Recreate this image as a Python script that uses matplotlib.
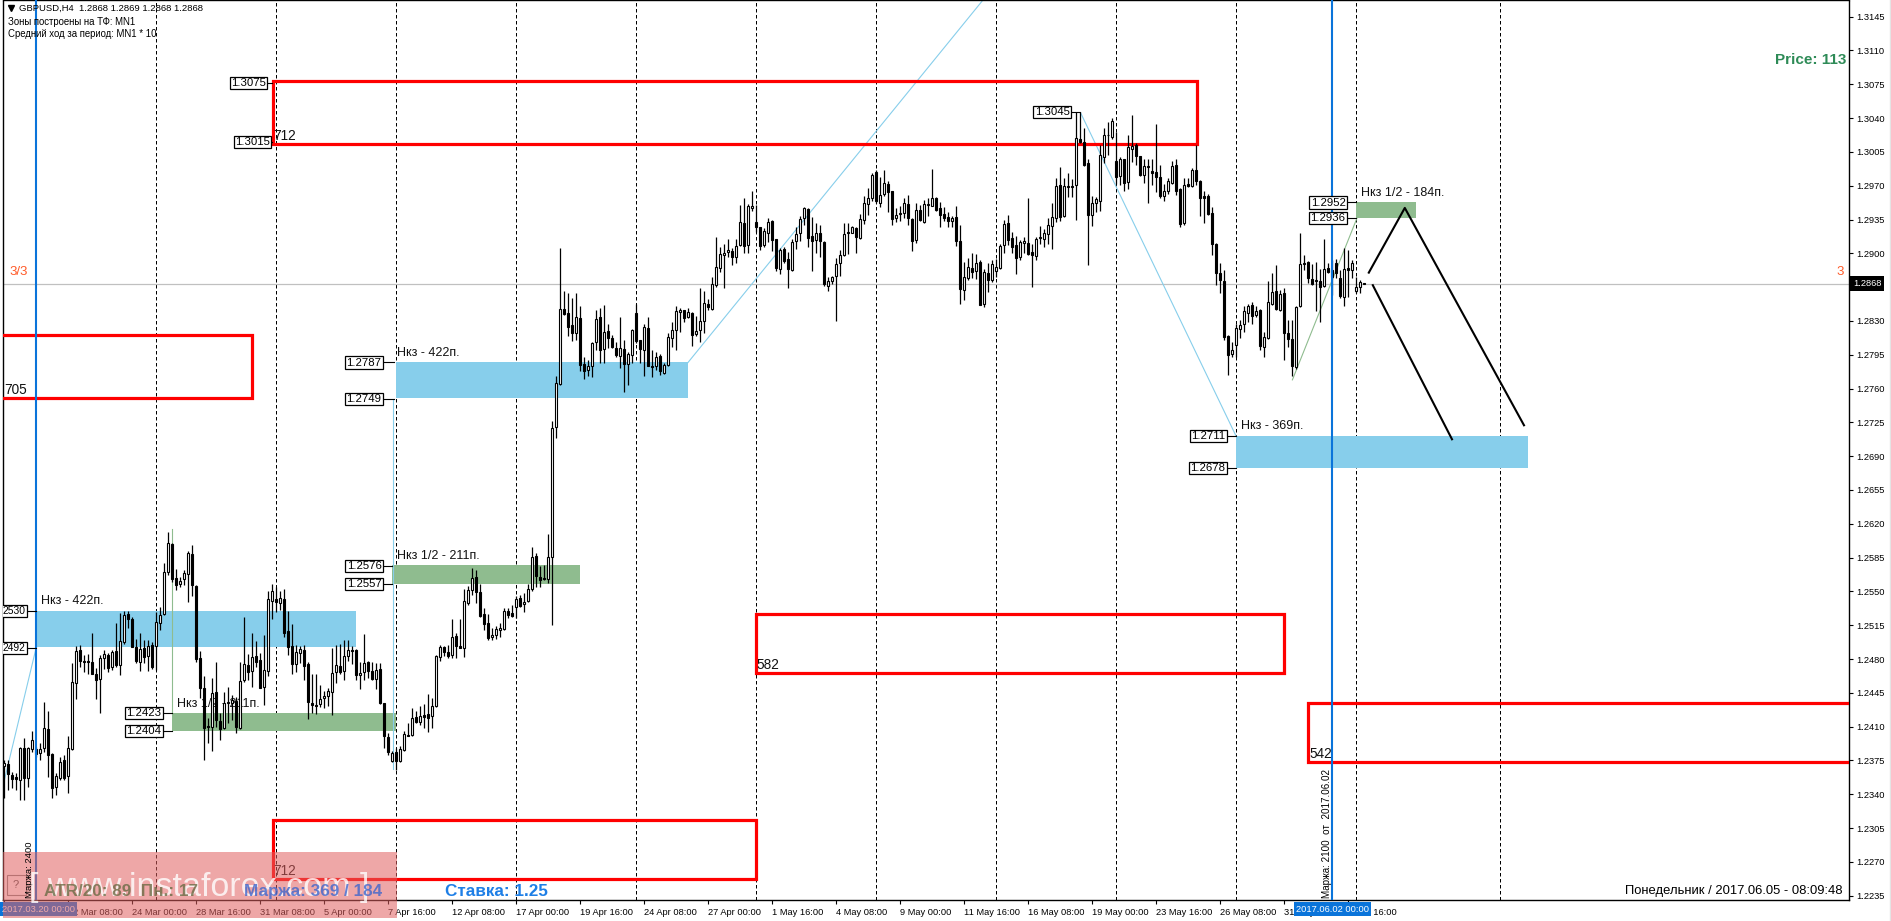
import numpy as np
import matplotlib
matplotlib.use('Agg')
import matplotlib.pyplot as plt
import matplotlib.transforms as mtransforms
from matplotlib.lines import Line2D
from matplotlib.patches import Rectangle

plt.rcParams['font.family'] = ['Liberation Sans', 'DejaVu Sans']

W, H = 1891, 921

# GBPUSD H4 candles, prices in pips (x 0.0001)
opens = [12369,12371,12360,12358,12355,12388,12357,12387,12382,12383,
    12388,12408,12382,12348,12357,12375,12359,12387,12455,12489,
    12478,12478,12477,12465,12459,12481,12484,12472,12488,12474,
    12498,12527,12521,12492,12477,12491,12483,12495,12493,12517,
    12527,12570,12599,12564,12558,12563,12568,12589,12556,12481,
    12450,12411,12410,12446,12416,12409,12434,12434,12437,12409,
    12458,12474,12468,12483,12479,12451,12468,12540,12542,12538,
    12542,12509,12494,12475,12486,12489,12475,12435,12432,12433,
    12440,12442,12446,12467,12473,12468,12483,12489,12489,12463,
    12467,12477,12468,12459,12470,12434,12399,12374,12384,12374,
    12386,12401,12401,12420,12415,12422,12423,12421,12431,12482,
    12492,12487,12484,12504,12493,12491,12538,12551,12565,12549,
    12527,12517,12503,12505,12510,12511,12530,12528,12534,12543,
    12537,12540,12553,12587,12565,12564,12563,12586,12720,12765,
    12842,12838,12826,12818,12833,12785,12779,12783,12808,12834,
    12801,12820,12812,12802,12794,12801,12785,12795,12838,12810,
    12800,12823,12783,12783,12794,12776,12784,12812,12821,12839,
    12841,12834,12838,12816,12821,12830,12848,12842,12867,12885,
    12898,12901,12902,12896,12909,12931,12909,12947,12932,12927,
    12909,12921,12933,12915,12884,12904,12894,12883,12913,12921,
    12937,12946,12918,12914,12921,12912,12866,12871,12877,12890,
    12898,12922,12921,12926,12916,12935,12951,12957,12984,12952,
    12961,12972,12964,12937,12941,12942,12951,12936,12914,12945,
    12932,12950,12949,12957,12947,12941,12938,12933,12938,12913,
    12862,12874,12885,12882,12891,12848,12880,12872,12882,12885,
    12909,12931,12916,12909,12896,12911,12911,12901,12897,12916,
    12915,12920,12928,12937,12971,12939,12970,12970,12971,13018,
    13015,12993,12940,12952,12954,13000,13022,13020,12996,12980,
    12998,12974,13008,13012,13001,12981,12990,12985,12984,12979,
    12959,12964,12973,12991,12967,12931,12972,12970,12986,12975,
    12959,12959,12942,12910,12880,12871,12814,12796,12805,12822,
    12827,12838,12846,12836,12841,12803,12812,12848,12861,12841,
    12859,12818,12811,12782,12845,12890,12891,12873,12871,12871,
    12866,12885,12875,12890,12874,12855,12885,12883,12861,12865,12869]
highs = [12376,12376,12363,12362,12389,12398,12389,12405,12389,12393,
    12436,12426,12383,12362,12379,12381,12400,12476,12493,12495,
    12484,12485,12507,12471,12484,12489,12486,12489,12517,12528,
    12530,12530,12524,12501,12507,12500,12500,12498,12529,12534,
    12579,12612,12600,12573,12565,12572,12592,12598,12557,12488,
    12462,12419,12460,12477,12424,12446,12451,12443,12441,12477,
    12524,12485,12507,12499,12486,12505,12550,12558,12555,12550,
    12553,12530,12516,12495,12494,12495,12477,12465,12465,12453,
    12447,12450,12491,12495,12496,12500,12500,12494,12490,12477,
    12506,12478,12477,12476,12476,12434,12403,12385,12388,12390,
    12406,12414,12429,12426,12431,12433,12444,12440,12484,12495,
    12493,12495,12521,12507,12521,12552,12556,12574,12572,12558,
    12533,12527,12512,12514,12517,12533,12533,12536,12545,12546,
    12548,12558,12596,12590,12576,12577,12609,12726,12773,12905,
    12861,12859,12854,12859,12845,12793,12790,12808,12841,12843,
    12846,12827,12815,12808,12834,12810,12798,12822,12848,12810,
    12827,12834,12800,12798,12796,12786,12818,12829,12845,12843,
    12841,12843,12839,12835,12864,12861,12853,12876,12917,12907,
    12910,12915,12905,12915,12950,12957,12951,12964,12950,12927,
    12926,12937,12934,12915,12905,12907,12901,12915,12927,12939,
    12948,12947,12938,12931,12929,12913,12876,12877,12895,12903,
    12931,12931,12928,12927,12941,12959,12968,12983,12986,12979,
    12986,12975,12965,12947,12949,12957,12960,12937,12952,12950,
    12955,12957,12987,12958,12953,12948,12943,12939,12949,12929,
    12891,12895,12900,12899,12893,12884,12890,12893,12894,12910,
    12935,12940,12922,12918,12914,12917,12957,12910,12917,12928,
    12925,12937,12952,12978,12989,12978,12983,12977,13046,13046,
    13030,12998,12959,12958,13012,13030,13036,13040,13026,13000,
    12998,13022,13043,13014,13001,12998,12998,12998,13034,12991,
    12972,12978,12996,12998,12968,12978,12978,12988,13012,12976,
    12965,12961,12948,12911,12890,12883,12815,12808,12827,12831,
    12845,12848,12850,12845,12842,12819,12871,12880,12888,12862,
    12864,12831,12831,12845,12921,12898,12892,12889,12891,12884,
    12915,12890,12893,12894,12883,12905,12903,12893,12876,12872,12869]
lows = [12336,12344,12346,12344,12334,12334,12348,12384,12379,12376,
    12384,12358,12336,12339,12355,12355,12341,12386,12439,12472,
    12467,12465,12464,12439,12424,12470,12467,12469,12472,12463,
    12496,12512,12492,12476,12468,12476,12468,12470,12469,12510,
    12526,12567,12560,12551,12555,12557,12539,12545,12477,12440,
    12376,12393,12385,12410,12396,12408,12414,12417,12403,12408,
    12456,12458,12451,12472,12450,12432,12462,12521,12529,12531,
    12503,12484,12465,12467,12476,12458,12418,12424,12423,12430,
    12429,12431,12422,12455,12464,12458,12478,12475,12458,12449,
    12458,12460,12458,12449,12433,12388,12381,12373,12365,12373,
    12385,12400,12400,12414,12412,12409,12404,12409,12430,12478,
    12483,12481,12481,12481,12491,12482,12536,12546,12538,12524,
    12510,12500,12500,12501,12503,12510,12523,12524,12522,12534,
    12529,12539,12550,12555,12555,12562,12559,12515,12709,12764,
    12836,12814,12809,12810,12778,12770,12773,12772,12800,12786,
    12786,12802,12802,12793,12781,12756,12764,12786,12807,12786,
    12773,12783,12772,12779,12774,12775,12783,12803,12800,12819,
    12829,12833,12804,12814,12808,12817,12841,12841,12865,12881,
    12864,12896,12888,12890,12908,12900,12900,12944,12922,12903,
    12907,12912,12902,12882,12879,12890,12864,12882,12904,12913,
    12929,12907,12882,12900,12896,12866,12861,12868,12830,12877,
    12897,12899,12921,12900,12915,12930,12940,12954,12952,12948,
    12959,12943,12929,12932,12933,12937,12929,12902,12911,12933,
    12931,12939,12949,12944,12927,12933,12927,12927,12908,12848,
    12852,12872,12874,12873,12846,12844,12860,12870,12876,12884,
    12900,12909,12900,12879,12893,12900,12898,12865,12893,12910,
    12907,12910,12904,12932,12933,12938,12958,12958,12935,13014,
    12990,12888,12928,12943,12944,12993,13002,13018,12972,12971,
    12965,12967,12995,12991,12980,12973,12952,12971,12963,12957,
    12954,12961,12972,12960,12927,12929,12969,12969,12971,12939,
    12931,12940,12898,12867,12859,12810,12774,12793,12793,12812,
    12819,12829,12827,12834,12800,12793,12811,12846,12841,12840,
    12790,12803,12773,12780,12844,12883,12869,12867,12840,12829,
    12865,12880,12857,12874,12854,12845,12855,12874,12859,12859,12868]
closes = [12372,12361,12356,12356,12388,12357,12388,12396,12387,12387,
    12409,12381,12346,12359,12373,12357,12388,12456,12488,12478,
    12477,12477,12464,12458,12481,12485,12471,12487,12474,12499,
    12526,12521,12492,12478,12490,12482,12493,12472,12518,12526,
    12570,12600,12563,12557,12561,12569,12590,12557,12480,12450,
    12409,12410,12445,12417,12408,12434,12436,12438,12410,12457,
    12475,12467,12482,12477,12450,12469,12542,12550,12539,12543,
    12507,12492,12475,12487,12490,12473,12436,12432,12431,12439,
    12442,12447,12466,12474,12467,12483,12489,12488,12463,12466,
    12476,12468,12459,12469,12434,12400,12384,12383,12374,12387,
    12402,12400,12419,12415,12421,12420,12419,12431,12483,12492,
    12487,12483,12503,12493,12491,12540,12551,12564,12549,12525,
    12516,12502,12505,12511,12512,12530,12526,12525,12542,12535,
    12539,12552,12586,12566,12562,12563,12586,12719,12766,12842,
    12837,12824,12817,12834,12784,12778,12783,12807,12832,12800,
    12819,12812,12803,12795,12802,12785,12796,12821,12809,12801,
    12824,12783,12782,12793,12778,12784,12813,12821,12840,12841,
    12833,12839,12815,12820,12830,12849,12844,12868,12886,12899,
    12900,12903,12896,12908,12932,12908,12949,12949,12927,12908,
    12923,12932,12914,12885,12903,12892,12884,12912,12920,12936,
    12947,12916,12913,12921,12913,12868,12871,12876,12889,12898,
    12920,12921,12927,12917,12936,12952,12957,12981,12954,12960,
    12973,12963,12936,12940,12942,12952,12937,12913,12945,12934,
    12951,12951,12957,12945,12940,12937,12933,12937,12913,12863,
    12875,12886,12881,12890,12847,12881,12872,12889,12886,12908,
    12930,12914,12907,12895,12912,12913,12899,12898,12915,12917,
    12921,12929,12938,12970,12938,12970,12969,12969,13019,13015,
    12991,12940,12952,12956,13002,13022,13023,13037,12979,12998,
    12973,13010,13011,13001,12981,12990,12989,12983,12979,12959,
    12965,12975,12990,12965,12930,12971,12970,12986,12975,12957,
    12957,12941,12910,12880,12872,12813,12795,12800,12823,12826,
    12840,12845,12835,12840,12804,12813,12850,12860,12842,12858,
    12817,12811,12783,12844,12889,12889,12874,12868,12872,12865,
    12884,12881,12883,12880,12856,12884,12883,12890,12865,12870,12868]

last_price = 1.2868
dashed_bars = [38, 68, 98, 128, 158, 188, 218, 248, 278, 308, 338, 374]
blue_bars = [8, 332]

# zones: bar from, bar to, price low, price high
blue_zones = [(8, 88, 1.2492, 1.2530), (98, 171, 1.2750, 1.2788), (308, 381, 1.2678, 1.2711)]
green_zones = [(42, 98, 1.2405, 1.2424), (97, 144, 1.2558, 1.2577), (338, 353, 1.2937, 1.2953)]
red_zones = [(67.2, 298.2, 1.3013, 1.3078), (-2, 62, 1.2750, 1.28155),
             (188, 320, 1.2466, 1.2527), (326, 470, 1.23735, 1.2435),
             (67.2, 188, 1.2252, 1.23135)]

# thin swing lines and the hand drawn forecast
blue_lines = [([0, 8], [1.2353, 1.2491]), ([171, 244.7], [1.2787, 1.3162]),
              ([269.2, 308], [1.3045, 1.2711]), ([97.2, 97.2], [1.2749, 1.2366])]
green_lines = [([42, 42], [1.2615, 1.2423]), ([322.1, 338.2], [1.2769, 1.2936])]
forecast_lines = [([341.2, 350.2, 380], [1.2880, 1.2947, 1.2722]), ([342.2, 362], [1.2867, 1.27075])]

y_ticks = [round(1.2235 + 0.0035 * k, 4) for k in range(27)]
x_tick_labels = ['', '22 Mar 08:00', '24 Mar 00:00', '28 Mar 16:00', '31 Mar 08:00', '5 Apr 00:00',
    '7 Apr 16:00', '12 Apr 08:00', '17 Apr 00:00', '19 Apr 16:00', '24 Apr 08:00', '27 Apr 00:00',
    '1 May 16:00', '4 May 08:00', '9 May 00:00', '11 May 16:00', '16 May 08:00', '19 May 00:00',
    '23 May 16:00', '26 May 08:00', '31 May 00:00', '2 Jun 16:00']
x_ticks = [16 * k for k in range(len(x_tick_labels))]

fig = plt.figure(figsize=(W / 100, H / 100), dpi=100, facecolor='white')
ax = fig.add_axes([3 / W, 1 - 900 / H, 1846 / W, 899.5 / H])
ax.set_xlim(-0.25, 461.25)
ax.set_ylim(1.2970 + (185.7 - 900) / 9660, 1.2970 + (185.7 - 0.5) / 9660)

# pixel coordinates for the text that sits on the chart
px = mtransforms.Affine2D().scale(1 / W, -1 / H).translate(0, 1) + fig.transFigure

for b in dashed_bars:
    ax.axvline(b, color='black', lw=0.72, ls=(0, (3.5, 2.5)), zorder=1)
ax.axhline(last_price, color='#c0c0c0', lw=0.9, zorder=1)

for x0, x1, lo, hi in blue_zones:
    ax.add_patch(Rectangle((x0, lo), x1 - x0, hi - lo, fc='#87ceeb', ec='none', zorder=2))
for x0, x1, lo, hi in green_zones:
    ax.add_patch(Rectangle((x0, lo), x1 - x0, hi - lo, fc='#8fbc8f', ec='none', zorder=2))
for xs, ys in blue_lines:
    ax.plot(xs, ys, color='#87ceeb', lw=0.8, zorder=2.5)
for xs, ys in green_lines:
    ax.plot(xs, ys, color='#8fbc8f', lw=0.8, zorder=2.5)
for x0, x1, lo, hi in red_zones:
    ax.add_patch(Rectangle((x0, lo), x1 - x0, hi - lo, fill=False, ec='#ff0000', lw=2.3, zorder=3, joinstyle='miter'))

# zone captions stay under the candles
zone_notes = [('Нкз - 422п.', 41, 600.7), ('Нкз - 422п.', 397, 352.7), ('Нкз - 369п.', 1241, 425.7),
              ('Нкз 1/2 - 211п.', 177, 703.7), ('Нкз 1/2 - 211п.', 397, 555.7), ('Нкз 1/2 - 184п.', 1361, 192.7)]
for s, x, y in zone_notes:
    ax.text(x, y, s, transform=px, fontsize=9, va='center', ha='left', color='#111111', zorder=3.5)
red_notes = [('712', 273, 136), ('705', 4, 390), ('582', 756, 665), ('542', 1309, 754), ('712', 273.5, 871)]
for s, x, y in red_notes:
    ax.text(x, y, s, transform=px, fontsize=9.8, va='center', ha='left', color='#111111', zorder=3.5)

o = np.array(opens) / 10000
h = np.array(highs) / 10000
l = np.array(lows) / 10000
c = np.array(closes) / 10000
idx = np.arange(len(o))
up = c >= o
ax.vlines(idx, l, h, color='black', lw=0.9, zorder=4)
ax.bar(idx[up], c[up] - o[up], bottom=o[up], width=0.5, color='white', edgecolor='black', linewidth=0.8, zorder=4.2)
ax.bar(idx[~up], o[~up] - c[~up], bottom=c[~up], width=0.5, color='black', edgecolor='black', linewidth=0.8, zorder=4.2)

for xs, ys in forecast_lines:
    ax.plot(xs, ys, color='black', lw=1.5, zorder=5)
for b in blue_bars:
    ax.axvline(b, color='#0a74da', lw=1.5, zorder=5)

# boxed price labels with a short leader to the zone
price_boxes = [('1.3075', 266, 83, 272), ('1.3015', 270, 142, 272), ('1.3045', 1069.5, 112, 1080),
               ('2530', 25.5, 611, 36), ('2492', 25.5, 648, 36), ('1.2423', 161.5, 713, 172),
               ('1.2404', 161.5, 731, 172), ('1.2787', 381.5, 362.5, 394), ('1.2749', 381.5, 399, 394),
               ('1.2576', 381.5, 566, 392), ('1.2557', 381.5, 584, 392), ('1.2711', 1225.5, 436, 1236),
               ('1.2678', 1225.5, 468, 1236), ('1.2952', 1345.5, 202.5, 1356), ('1.2936', 1345.5, 218, 1356)]
for s, xr, y, xe in price_boxes:
    ax.plot([xr, xe], [y, y], color='black', lw=0.8, transform=px, zorder=6)
    ax.text(xr, y, s, transform=px, fontsize=8.2 if len(s) > 4 else 7.4, va='center', ha='right',
            color='black', zorder=6, clip_on=True,
            bbox=dict(boxstyle='square,pad=0.12', fc='white', ec='black', lw=0.9))

# header
ax.plot([10.5], [8.5], marker='v', ms=4.5, color='black', transform=px, clip_on=False, zorder=7)
ax.text(19, 8.5, 'GBPUSD,H4  1.2868 1.2869 1.2868 1.2868', transform=px, fontsize=6.8, va='center', zorder=7)
ax.text(8, 21.7, 'Зоны построены на ТФ: MN1', transform=px, fontsize=6.9, va='center', zorder=7)
ax.text(8, 33.7, 'Средний ход за период: MN1 * 10', transform=px, fontsize=6.9, va='center', zorder=7)
ax.text(9, 271.7, '3/3', transform=px, fontsize=9.5, va='center', color='#ff5a28', zorder=7)
ax.text(1836.5, 271.7, '3', transform=px, fontsize=9.5, va='center', color='#ff5a28', zorder=7)
ax.text(1846.5, 60, 'Price: 113', transform=px, fontsize=11, fontweight='bold', va='center', ha='right',
        color='#2e8b57', zorder=7)

ax.text(1326.5, 833, 'Маржа: 2100  от  2017.06.02', transform=px, fontsize=7.1, rotation=90, va='center', ha='center', zorder=7)
ax.text(1843, 890.7, 'Понедельник / 2017.06.05 - 08:09:48', transform=px, fontsize=9.4, va='center', ha='right', zorder=7)
ax.text(445, 891, 'Ставка: 1.25', transform=px, fontsize=12.3, fontweight='bold', va='center', color='#1e7fe6', zorder=7)
ax.add_patch(Rectangle((7, 875), 18.5, 20, transform=px, fc='white', ec='#888888', lw=0.8, zorder=7))
ax.text(16, 885, '?', transform=px, fontsize=8, va='center', ha='center', color='#555555', zorder=7.5)

# axes
ax.yaxis.tick_right()
ax.set_yticks(y_ticks)
ax.set_yticklabels(['%.4f' % v for v in y_ticks])
ax.set_xticks(x_ticks)
ax.set_xticklabels(x_tick_labels, ha='left')
ax.tick_params(axis='y', length=3, width=0.8, pad=2.2, labelsize=6.7, direction='out')
ax.tick_params(axis='x', length=3, width=0.8, pad=2.5, labelsize=6.7, direction='out')
for spine in ax.spines.values():
    spine.set_linewidth(1.0)
    spine.set_color('black')

ax.text(1853, 283.5, '1.2868', transform=px, fontsize=6.7, va='center', ha='left', color='white', zorder=8, clip_on=False,
        bbox=dict(boxstyle='square,pad=0.3', fc='black', ec='none'))
ax.text(1332.5, 909, '2017.06.02 00:00', transform=px, fontsize=6.7, va='center', ha='center', color='white', zorder=8, clip_on=False,
        bbox=dict(boxstyle='square,pad=0.25', fc='#0a74da', ec='none'))
ax.text(38.5, 909, '2017.03.20 00:00', transform=px, fontsize=6.7, va='center', ha='center', color='white', zorder=8, clip_on=False,
        bbox=dict(boxstyle='square,pad=0.25', fc='#0a74da', ec='none'))

# watermark over everything, the info line shows through it
fig.add_artist(Rectangle((3, 852), 394, 66, transform=px, fc='#e06060', ec='none', alpha=0.55, zorder=5))
fig.text(30, 870, 'Маржа: 2400', transform=px, fontsize=6.8, rotation=90, va='center', ha='center', zorder=5.5)
fig.text(199, 887, '[ www.instaforex.com ]', transform=px, fontsize=24.5, color='white', alpha=0.8,
         va='center', ha='center', zorder=5.6)
fig.text(43.5, 891, 'ATR/20: 89  Пн.: 17', transform=px, fontsize=12.3, fontweight='bold', va='center',
         color='#6b6b45', alpha=0.8, zorder=6)
fig.text(244, 891, 'Маржа: 369 / 184', transform=px, fontsize=12.3, fontweight='bold', va='center',
         color='#3f66cc', alpha=0.8, zorder=6)
fig.add_artist(Line2D([1889.5, 1889.5], [0, 921], transform=px, color='#e4e4e4', lw=1.0, zorder=1))

fig.savefig('out.png', dpi=100)
